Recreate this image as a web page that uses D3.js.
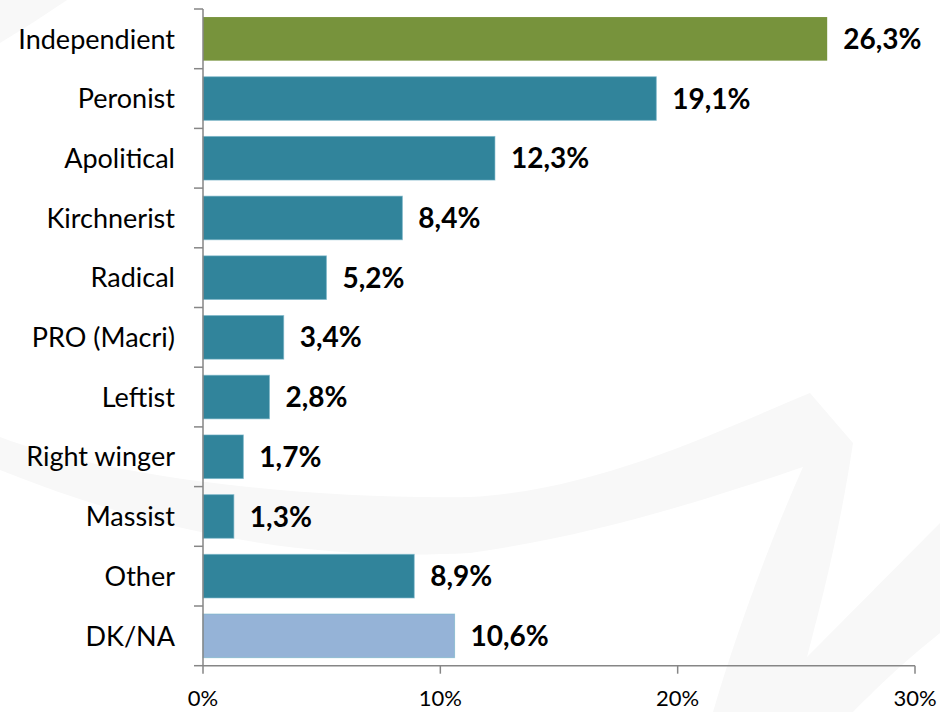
<!DOCTYPE html>
<html>
<head>
<meta charset="utf-8">
<script src="https://cdn.jsdelivr.net/npm/d3@7.9.0/dist/d3.min.js"></script>
<style>
  body { margin: 0; background: #fff; }
  svg { display: block; font-family: Lato, 'Open Sans', sans-serif; }
</style>
</head>
<body>
<svg id="chart" width="940" height="712"></svg>
<script>
const categories = ['Independient', 'Peronist', 'Apolitical', 'Kirchnerist', 'Radical',
  'PRO (Macri)', 'Leftist', 'Right winger', 'Massist', 'Other', 'DK/NA'];
const values = [26.3, 19.1, 12.3, 8.4, 5.2, 3.4, 2.8, 1.7, 1.3, 8.9, 10.6];
const barColors = ['#77933c', '#31849b', '#31849b', '#31849b', '#31849b', '#31849b',
  '#31849b', '#31849b', '#31849b', '#31849b', '#95b3d7'];
const xTicks = [0, 10, 20, 30];

const svg = d3.select('#chart');

// faint watermark swooshes in the background
const bg = svg.append('g').attr('fill', '#f8f8f8');
bg.append('path').attr('d', 'M0,0 L67,0 Q35,22 0,43 Z');
bg.append('path').attr('d',
  'M0,437 C100,475 300,500 470,497 C600,490 720,430 810,393 L853,443 ' +
  'C840,530 822,600 807,657 L940,523 L940,633 C900,665 875,690 853,712 L713,712 ' +
  'C740,620 775,530 803,467 C720,495 600,535 470,553 C300,562 150,530 0,470 Z');

const x = d3.scaleLinear().domain([0, 30]).range([203, 915]);
const y = d3.scaleBand()
  .domain(categories)
  .range([9, 665.7])
  .paddingInner(0.27)
  .paddingOuter(0.135);

const fmt = v => v.toFixed(1).replace('.', ',') + '%';

// bars
svg.append('g')
  .selectAll('rect')
  .data(values)
  .join('rect')
    .attr('x', x(0))
    .attr('y', (d, i) => y(categories[i]))
    .attr('width', d => x(d) - x(0))
    .attr('height', y.bandwidth())
    .attr('fill', (d, i) => barColors[i])
    .attr('stroke', (d, i) => i === 0 ? 'none' : '#6fb0c4')
    .attr('stroke-opacity', 0.6)
    .attr('stroke-width', 1);

// value labels
svg.append('g')
  .selectAll('text')
  .data(values)
  .join('text')
    .attr('x', d => x(d) + 16)
    .attr('y', (d, i) => y(categories[i]) + y.bandwidth() / 2)
    .attr('dy', '0.36em')
    .attr('font-size', 28)
    .attr('font-weight', 'bold')
    .attr('fill', '#000')
    .text(fmt);

// category labels
svg.append('g')
  .selectAll('text')
  .data(categories)
  .join('text')
    .attr('x', 175)
    .attr('y', d => y(d) + y.bandwidth() / 2)
    .attr('dy', '0.36em')
    .attr('text-anchor', 'end')
    .attr('font-size', 27)
    .attr('fill', '#000')
    .text(d => d);

// axes
const axisColor = '#868686';
const axes = svg.append('g').attr('stroke', axisColor).attr('stroke-width', 1.5);
const yTop = y.range()[0], yBottom = y.range()[1];
axes.append('line').attr('x1', x(0)).attr('x2', x(0)).attr('y1', yTop).attr('y2', yBottom);
axes.append('line').attr('x1', x(0)).attr('x2', x(30)).attr('y1', yBottom).attr('y2', yBottom);

const bounds = d3.range(categories.length + 1).map(i => yTop + i * y.step());
axes.selectAll('.ytick')
  .data(bounds)
  .join('line')
    .attr('x1', x(0) - 9).attr('x2', x(0))
    .attr('y1', d => d).attr('y2', d => d);

axes.selectAll('.xtick')
  .data(xTicks)
  .join('line')
    .attr('x1', d => x(d)).attr('x2', d => x(d))
    .attr('y1', yBottom).attr('y2', yBottom + 8);

svg.append('g')
  .selectAll('text')
  .data(xTicks)
  .join('text')
    .attr('x', d => x(d))
    .attr('y', 706)
    .attr('text-anchor', 'middle')
    .attr('font-size', 22)
    .attr('fill', '#000')
    .text(d => d + '%');
</script>
</body>
</html>
